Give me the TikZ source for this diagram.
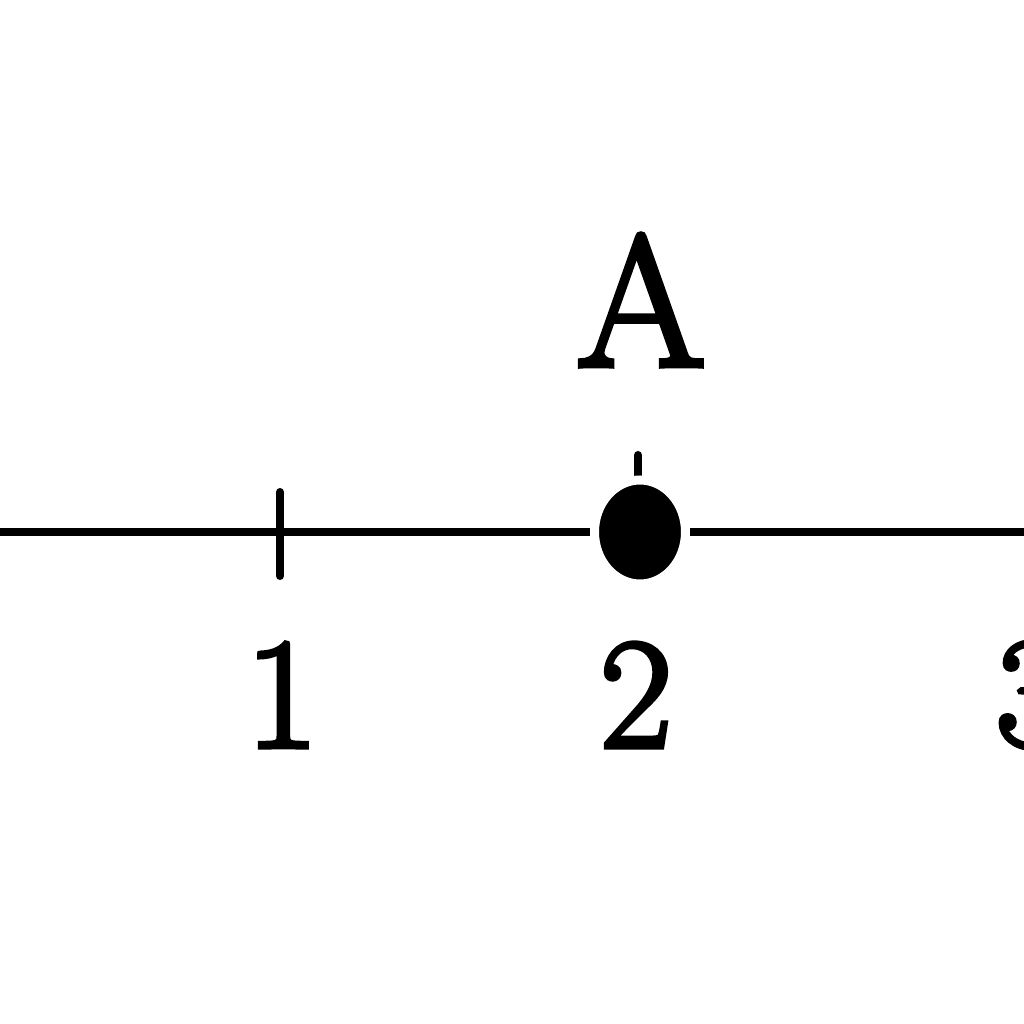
\documentclass[tikz,border=0pt]{standalone}
\usepackage{fontspec}
\usetikzlibrary{calc}
\newfontfamily\labelfont{Latin Modern Roman}[FakeBold=3]
\tikzset{
	numlabel/.style={font=\labelfont\fontsize{45}{48}\selectfont, inner sep=0pt},
	ticklabel/.style={line width=0.08cm, line cap=round}
}

\begin{document}
\begin{tikzpicture}
		%%%%% START %%%%%
		\useasboundingbox (0, 0) rectangle (10.24, 10.24);
		
		\coordinate (west) at (0, 4.92);
		\coordinate (east) at (10.24, 4.92);
		\draw[line width=0.08cm] (west) -- (east);
		
		\draw[ticklabel] (2.80, 5.32) -- (2.80, 4.48);
		\draw[ticklabel] (6.38, 5.69) -- (6.38, 4.92);
		
		\draw[fill=black, draw=white, line width=0.09cm] (6.40, 4.92) ellipse (0.455 and 0.52);
		
		\node[numlabel] (one) at (2.82, 3.29) {1};
		\node[numlabel] (two) at (6.36, 3.29) {2};
		\node[numlabel] (three) at (10.32, 3.29) {3};
		
		\node[font=\labelfont\fontsize{53}{56}\selectfont, inner sep=0pt] (pointA) at (6.41, 7.24) {A};
		
		%%%%% END %%%%%
	\end{tikzpicture}
\end{document}
